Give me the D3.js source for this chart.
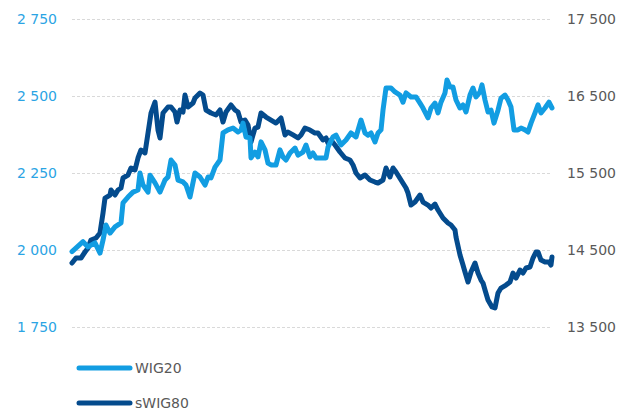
<!DOCTYPE html>
<html>
<head>
<meta charset="utf-8">
<script src="https://cdn.jsdelivr.net/npm/d3@7"></script>
<style>
body { margin: 0; background: #fff; }
svg text { font-family: "DejaVu Sans", Verdana, sans-serif; }
</style>
</head>
<body>
<script>
// WIG20 (left axis) and sWIG80 (right axis), day index from chart start
var wigDays = [0,11,16,23,28,31,34,38,43,49,51,56,61,66,68,71,76,78,83,88,93,96,99,103,106,111,114,118,123,128,133,136,139,143,148,151,156,161,166,169,171,174,178,179,183,186,189,193,196,199,204,208,211,214,218,223,226,231,234,238,241,244,249,254,256,261,264,269,274,279,284,289,293,296,299,303,306,309,311,314,319,323,328,331,334,339,344,348,351,356,359,363,366,369,373,375,378,381,384,388,391,394,398,401,404,408,410,413,416,419,422,426,429,433,436,439,442,446,449,453,456,459,463,466,469,473,477,480];
var wig20 = [1995,2027,2010,2023,1990,2032,2081,2055,2075,2088,2153,2172,2188,2195,2250,2211,2188,2243,2218,2188,2227,2237,2292,2276,2227,2221,2211,2172,2250,2237,2211,2237,2234,2269,2292,2380,2390,2396,2383,2390,2412,2367,2364,2299,2318,2302,2351,2325,2282,2276,2276,2325,2302,2292,2315,2331,2308,2318,2341,2302,2315,2299,2299,2299,2334,2367,2373,2341,2357,2380,2367,2422,2380,2373,2380,2351,2380,2390,2454,2526,2526,2513,2503,2480,2510,2497,2497,2477,2461,2429,2461,2477,2445,2480,2510,2552,2529,2529,2487,2461,2471,2448,2503,2526,2497,2513,2536,2487,2448,2454,2412,2454,2493,2503,2487,2464,2390,2390,2396,2390,2383,2412,2445,2471,2445,2461,2480,2461];

var swigDays = [0,4,9,13,16,19,24,28,31,33,38,39,43,46,49,51,56,59,63,66,69,73,76,79,83,86,88,91,96,99,103,105,108,111,113,116,121,123,128,131,134,139,144,148,151,154,159,163,166,169,173,176,179,183,186,189,194,199,204,209,213,216,221,226,229,233,238,243,246,251,254,256,259,263,268,273,278,281,284,288,293,298,303,306,311,314,318,321,324,329,334,336,339,343,348,351,356,359,363,366,371,376,379,383,384,388,391,393,396,399,403,406,409,411,413,416,420,423,426,429,434,438,441,444,448,451,454,458,461,464,466,469,473,477,479,480];
var swig80 = [14331,14396,14396,14474,14526,14630,14656,14721,14980,15175,15214,15279,15214,15279,15305,15435,15474,15565,15539,15695,15799,15760,16019,16279,16422,16058,15955,16279,16357,16357,16292,16162,16318,16292,16513,16357,16409,16474,16539,16513,16318,16279,16253,16318,16162,16292,16383,16318,16292,16162,16188,16123,15903,16084,16097,16279,16227,16188,16149,16214,15994,16032,15994,15955,15994,16084,16058,16019,16019,15929,15955,15890,15929,15864,15773,15695,15669,15604,15500,15435,15474,15409,15383,15370,15409,15565,15448,15565,15513,15409,15305,15240,15084,15123,15214,15123,15084,15045,15097,15019,14916,14851,14825,14760,14669,14435,14305,14214,14084,14214,14331,14201,14110,14071,13980,13851,13760,13747,13942,14006,14045,14084,14201,14136,14240,14201,14266,14279,14396,14474,14474,14370,14344,14344,14305,14409,14591];

var leftTicks = [1750, 2000, 2250, 2500, 2750];
var rightTicks = [13500, 14500, 15500, 16500, 17500];
var seriesNames = ["WIG20", "sWIG80"];
var colors = ["#129de2", "#044b8d"];

var W = 617, H = 414;
var svg = d3.select("body").append("svg")
	.attr("width", W)
	.attr("height", H);

var x = d3.scaleLinear().domain([0, 480]).range([72, 552]);
var yL = d3.scaleLinear().domain([1750, 2750]).range([327, 19]);
var yR = d3.scaleLinear().domain([13500, 17500]).range([327, 19]);

var fmt = function(v) { return d3.format(",")(v).replace(/,/g, " "); };

// gridlines + left labels
var leftAxis = svg.append("g").attr("transform", "translate(72,0)")
	.call(d3.axisLeft(yL).tickValues(leftTicks).tickSize(-480).tickPadding(15).tickFormat(fmt));
leftAxis.select(".domain").remove();
leftAxis.selectAll("line")
	.attr("stroke", "#d9d9d9")
	.attr("stroke-dasharray", "3,2");
leftAxis.selectAll("text")
	.attr("fill", "#2ba4e4")
	.style("font-size", "14px")
	.style("font-family", "DejaVu Sans");

var rightAxis = svg.append("g").attr("transform", "translate(552,0)")
	.call(d3.axisRight(yR).tickValues(rightTicks).tickSize(0).tickPadding(15).tickFormat(fmt));
rightAxis.select(".domain").remove();
rightAxis.selectAll("text")
	.attr("fill", "#595959")
	.style("font-size", "14px")
	.style("font-family", "DejaVu Sans");

var lineL = d3.line()
	.x(function(d, i) { return x(wigDays[i]); })
	.y(function(d) { return yL(d); });
var lineR = d3.line()
	.x(function(d, i) { return x(swigDays[i]); })
	.y(function(d) { return yR(d); });

svg.append("path")
	.datum(swig80)
	.attr("d", lineR)
	.attr("fill", "none")
	.attr("stroke", colors[1])
	.attr("stroke-width", 5)
	.attr("stroke-linejoin", "round")
	.attr("stroke-linecap", "round");

svg.append("path")
	.datum(wig20)
	.attr("d", lineL)
	.attr("fill", "none")
	.attr("stroke", colors[0])
	.attr("stroke-width", 5)
	.attr("stroke-linejoin", "round")
	.attr("stroke-linecap", "round");

// legend
var legend = svg.selectAll(".leg")
	.data(seriesNames)
	.enter()
	.append("g")
	.attr("transform", function(d, i) { return "translate(0," + (368 + i * 35) + ")"; });

legend.append("line")
	.attr("x1", 79).attr("x2", 130)
	.attr("y1", 0).attr("y2", 0)
	.attr("stroke", function(d, i) { return colors[i]; })
	.attr("stroke-width", 5)
	.attr("stroke-linecap", "round");

legend.append("text")
	.attr("x", 135)
	.attr("y", 0)
	.attr("dy", "0.35em")
	.attr("fill", "#595959")
	.style("font-size", "14px")
	.text(function(d) { return d; });
</script>
</body>
</html>
